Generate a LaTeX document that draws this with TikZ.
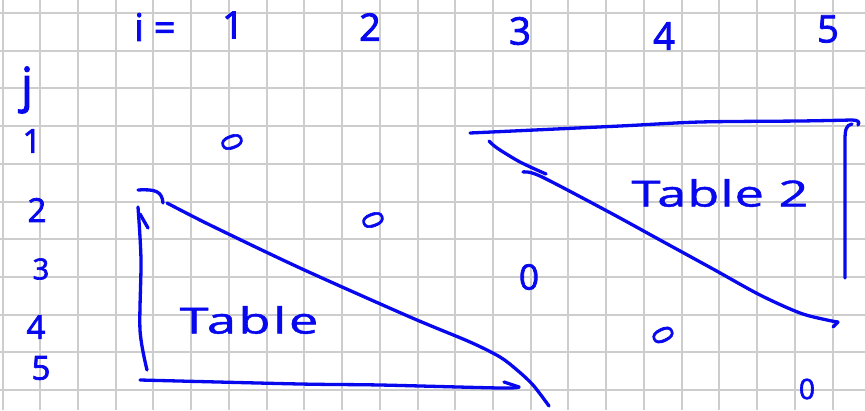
\documentclass[tikz,border=0pt]{standalone}
\usepackage{fontspec}
\setmainfont{Open Sans}
\newfontfamily\handfont[FakeBold=2.2]{Open Sans}
\newfontfamily\wordfont[FakeBold=1.2]{Open Sans}
\usepackage{graphicx}
\definecolor{penblue}{RGB}{8,8,238}
\definecolor{gridgray}{RGB}{205,205,205}
\begin{document}
\begin{tikzpicture}[x=1pt,y=-1pt,
 pen/.style={draw=penblue, line width=3.3pt, line cap=round, line join=round},
 gridline/.style={draw=gridgray, line width=2pt},
 lab/.style={text=penblue, inner sep=0pt, font=\handfont\fontsize{38}{40}\selectfont},
 rowlab/.style={text=penblue, inner sep=0pt, font=\handfont\fontsize{33}{35}\selectfont},
 zero/.style={text=penblue, inner sep=0pt, font=\handfont\fontsize{29}{31}\selectfont},
 word/.style={text=penblue, inner sep=0pt, font=\wordfont\fontsize{36}{38}\selectfont}]
\useasboundingbox (0,0) rectangle (865,410);
\fill[white] (0,0) rectangle (865,410);
% grid paper
\foreach \k in {0,...,22} \draw[gridline] ({2.5+37.73*\k},0) -- ({2.5+37.73*\k},410);
\foreach \k in {0,...,10} \draw[gridline] (0,{13+37.7*\k}) -- (865,{13+37.7*\k});
% column header
\node[lab] (ieq) at (155,27) {i =};
\node[lab] (c1) at (233,25) {1};
\node[lab] (c2) at (370,27) {2};
\node[lab] (c3) at (520,31) {3};
\node[lab] (c4) at (664,36) {4};
\node[lab] (c5) at (828,29) {5};
% row header
\node[lab, font=\handfont\fontsize{48}{50}\selectfont] (jlab) at (27,90) {j};
\node[rowlab] (r1) at (32,141) {1};
\node[rowlab] (r2) at (37,210) {2};
\node[rowlab, font=\handfont\fontsize{29}{31}\selectfont] (r3) at (41,269) {3};
\node[rowlab] (r4) at (36,327) {4};
\node[rowlab] (r5) at (41,368) {5};
% diagonal zeros
\node[zero, rotate=-70] (z1) at (232,142) {0};
\node[zero, rotate=-70] (z2) at (373,220) {0};
\node[zero, font=\handfont\fontsize{35}{37}\selectfont] (z3) at (529,277) {0};
\node[zero, rotate=-65] (z4) at (663,335) {0};
\node[zero, font=\handfont\fontsize{28}{30}\selectfont] (z5) at (807,389) {0};
% Table 1
\draw[pen] (138,190) .. controls (155,189) and (162,191) .. (163,203);
\draw[pen] (140,214) -- (148,228);
\draw[pen] plot[smooth] coordinates {(138,207) (141,260) (140,330) (147,370)};
\draw[pen] plot[smooth] coordinates {(167,203) (210,225) (300,268) (410,317) (470,342) (500,357) (517,370) (533,385) (549,406)};
\draw[pen] plot[smooth] coordinates {(140,380) (300,384) (380,385) (500,388) (519,387)};
\draw[pen] (504,382) -- (519,387);
\node[word] (t1) at (249,320) {\scalebox{1.45}[1]{\addfontfeature{LetterSpace=5}Table}};
% Table 2
\draw[pen] plot[smooth] coordinates {(470,133) (620,126) (700,122) (800,121) (852,120)} .. controls (858,120) and (860,122) .. (858,125);
\draw[pen] (852,124) .. controls (846,125) and (845,130) .. (845,140) -- (845,278);
\draw[pen] plot[smooth] coordinates {(489,141) (497,148) (520,162) (546,174)};
\draw[pen] plot[smooth] coordinates {(523,172) (540,176) (607,211) (660,240) (713,269) (760,295) (800,313) (827,320) (838,322)};
\draw[pen] (838,322) -- (833,327);
\node[word] (t2) at (720,193) {\scalebox{1.45}[1]{\addfontfeature{LetterSpace=2}Table 2}};
\end{tikzpicture}
\end{document}
